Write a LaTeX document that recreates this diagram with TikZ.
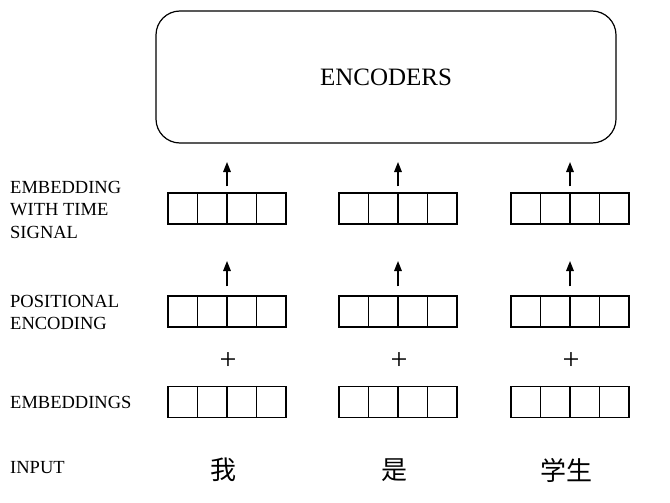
\documentclass[tikz,border=0pt]{standalone}
\usepackage{fontspec}
\setmainfont{Liberation Serif}
\newfontfamily\cjk{Noto Sans CJK SC}
\usetikzlibrary{arrows.meta,calc}
\begin{document}
\begin{tikzpicture}[x=1pt,y=-1pt,
  vec/.style={draw,line width=1.2pt,minimum width=118pt,minimum height=31pt,inner sep=0pt},
  lbl/.style={anchor=west,align=left,inner sep=0pt,font=\fontsize{18.5}{22.5}\selectfont},
  arr/.style={line width=1.5pt,-{Triangle[width=7.5pt,length=10pt]}},
  word/.style={inner sep=0pt,font=\fontsize{26}{30}\selectfont\cjk},
  plus/.style={inner sep=0pt,font=\fontsize{30}{34}\selectfont}
]
\useasboundingbox (0,0) rectangle (670,503);
\node[draw,line width=1.2pt,rounded corners=24pt,minimum width=460pt,minimum height=132pt,
  font=\fontsize{25}{30}\selectfont] (enc) at (386,77) {ENCODERS};

% labels
\node[lbl] (l1) at (10,209.5) {EMBEDDING\\WITH TIME\\SIGNAL};
\node[lbl] (l2) at (10,312.5) {POSITIONAL\\ENCODING};
\node[lbl] (l3) at (10,402) {EMBEDDINGS};
\node[lbl] (l4) at (10,468) {INPUT};

\foreach \c/\x in {1/227,2/398,3/570}{
  \node[vec] (t\c) at (\x,208.5) {};
  \node[vec] (p\c) at (\x,311.5) {};
  \node[vec] (e\c) at (\x,402) {};
  \node[plus] (plus\c) at (\x+1,361) {+};
  \coordinate (ta\c) at (\x,162);
  \coordinate (pa\c) at (\x,261);
  \draw[arr] ([yshift=6pt]t\c.north) -- (ta\c);
  \draw[arr] ([yshift=9pt]p\c.north) -- (pa\c);
  \foreach \v in {t,p,e}{
    \foreach \i in {1,2,3}{
      \draw[line width=1.2pt] ($(\v\c.north west)!\i/4!(\v\c.north east)$) -- ($(\v\c.south west)!\i/4!(\v\c.south east)$);
    }
  }
}
\node[word] (w1) at (223,470) {我};
\node[word] (w2) at (394.5,470) {是};
\node[word] (w3) at (566,470) {学生};
\end{tikzpicture}
\end{document}
